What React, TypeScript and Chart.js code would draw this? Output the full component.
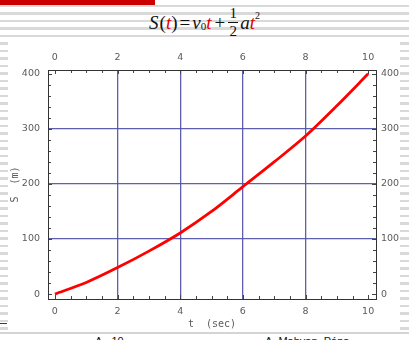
import React, { useEffect, useRef } from "react";
import { Chart, registerables } from "chart.js";

Chart.register(...registerables);

const times = [0, 1, 2, 3, 4, 5, 6, 7, 8, 9, 10];
const distance = [0, 21, 48, 78, 111, 150, 195, 240, 287, 342, 400];
const xTickValues = [0, 2, 4, 6, 8, 10];
const yTickValues = [0, 100, 200, 300, 400];
const xTitle = "t  (sec)";
const yTitle = "S  (m)";

const GRID = "rgba(78,78,168,0.9)";
const TICKCOL = "#5a5a5a";

const framePlugin = {
  id: "frame",
  beforeDatasetsDraw(chart: any) {
    const { ctx, chartArea } = chart;
    const xs = chart.scales.x;
    const ys = chart.scales.y;
    ctx.save();
    ctx.strokeStyle = "#444";
    ctx.lineWidth = 1;
    ctx.beginPath();
    for (let v = 0; v <= 10.001; v += 0.5) {
      const px = Math.round(xs.getPixelForValue(v)) + 0.5;
      const len = v % 2 === 0 ? 4 : 3;
      ctx.moveTo(px, chartArea.bottom);
      ctx.lineTo(px, chartArea.bottom - len);
      ctx.moveTo(px, chartArea.top);
      ctx.lineTo(px, chartArea.top + len);
    }
    for (let v = 0; v <= 400; v += 20) {
      const py = Math.round(ys.getPixelForValue(v)) + 0.5;
      const len = v % 100 === 0 ? 4 : 3;
      ctx.moveTo(chartArea.left, py);
      ctx.lineTo(chartArea.left + len, py);
      ctx.moveTo(chartArea.right, py);
      ctx.lineTo(chartArea.right - len, py);
    }
    ctx.stroke();
    ctx.strokeStyle = "#333";
    ctx.strokeRect(
      Math.round(chartArea.left) + 0.5,
      Math.round(chartArea.top) + 0.5,
      Math.round(chartArea.right - chartArea.left),
      Math.round(chartArea.bottom - chartArea.top)
    );
    ctx.restore();
  },
};

const tickFont = { family: "DejaVu Sans", size: 9.5 };

function ChartCanvas() {
  const ref = useRef<HTMLCanvasElement | null>(null);
  useEffect(() => {
    if (!ref.current) return;
    const gridColor = (ctx: any) => {
      const v = ctx.tick && ctx.tick.value;
      if (v === undefined) return "rgba(0,0,0,0)";
      const scaleId = ctx.scale.id;
      if (scaleId === "x") return v > 0 && v < 10 ? GRID : "rgba(0,0,0,0)";
      return v > 0 && v < 400 ? GRID : "rgba(0,0,0,0)";
    };
    const chart = new Chart(ref.current, {
      type: "scatter",
      data: {
        datasets: [
          {
            data: times.map((t, i) => ({ x: t, y: distance[i] })),
            showLine: true,
            borderColor: "#ff0000",
            borderWidth: 2.8,
            pointRadius: 0,
            tension: 0.3,
          },
        ],
      },
      plugins: [framePlugin],
      options: {
        animation: false,
        responsive: false,
        layout: { padding: 0 },
        plugins: { legend: { display: false }, tooltip: { enabled: false } },
        scales: {
          x: {
            type: "linear",
            position: "bottom",
            min: -0.22,
            max: 10.25,
            afterBuildTicks: (s: any) => {
              s.ticks = xTickValues.map((v) => ({ value: v }));
            },
            afterFit: (s: any) => {
              s.height = 31;
            },
            grid: { color: gridColor, lineWidth: 1.3, drawTicks: false },
            border: { display: false },
            ticks: { font: tickFont, color: TICKCOL, padding: 7, maxRotation: 0 },
            title: {
              display: true,
              text: xTitle,
              font: { family: "DejaVu Sans Mono", size: 10 },
              color: TICKCOL,
              padding: { top: 0, bottom: 0 },
            },
          },
          x2: {
            type: "linear",
            position: "top",
            min: -0.22,
            max: 10.25,
            afterBuildTicks: (s: any) => {
              s.ticks = xTickValues.map((v) => ({ value: v }));
            },
            afterFit: (s: any) => {
              s.height = 30;
            },
            grid: { display: false, drawTicks: false },
            border: { display: false },
            ticks: { font: tickFont, color: TICKCOL, padding: 7, maxRotation: 0 },
          },
          y: {
            type: "linear",
            position: "left",
            min: -9,
            max: 407,
            afterBuildTicks: (s: any) => {
              s.ticks = yTickValues.map((v) => ({ value: v }));
            },
            afterFit: (s: any) => {
              s.width = 48;
            },
            grid: { color: gridColor, lineWidth: 1.3, drawTicks: false },
            border: { display: false },
            ticks: { font: tickFont, color: TICKCOL, padding: 8 },
            title: {
              display: true,
              text: yTitle,
              font: { family: "DejaVu Sans Mono", size: 10 },
              color: TICKCOL,
              padding: { top: 9, bottom: 0 },
            },
          },
          y2: {
            type: "linear",
            position: "right",
            min: -9,
            max: 407,
            afterBuildTicks: (s: any) => {
              s.ticks = yTickValues.map((v) => ({ value: v }));
            },
            afterFit: (s: any) => {
              s.width = 33;
            },
            grid: { display: false, drawTicks: false },
            border: { display: false },
            ticks: { font: tickFont, color: TICKCOL, padding: 5 },
          },
        },
      },
    } as any);
    return () => chart.destroy();
  }, []);
  return (
    <canvas
      ref={ref}
      width={409}
      height={290}
      style={{ position: "absolute", left: 0, top: 40, width: 409, height: 290 }}
    />
  );
}

const stripes =
  "repeating-linear-gradient(to bottom, #ffffff 0px, #ffffff 5px, #d9d9d9 5px, #d9d9d9 7.5px)";

export default function App() {
  const serif = "'Liberation Serif', 'DejaVu Serif', serif";
  const it: React.CSSProperties = { fontStyle: "italic" };
  const red: React.CSSProperties = { fontStyle: "italic", color: "#e00000" };
  return (
    <div
      style={{
        position: "absolute",
        left: 0,
        top: 0,
        width: 409,
        height: 340,
        overflow: "hidden",
        background: stripes,
        fontFamily: serif,
      }}
    >
      <div style={{ position: "absolute", left: 0, top: 0, width: 155, height: 5, background: "#cc0000" }} />
      <div style={{ position: "absolute", left: 8, top: 40, width: 392, height: 292, background: "#fff" }} />
      <div style={{ position: "absolute", left: 0, top: 332, width: 409, height: 2, background: "#d4d4d4" }} />
      <div style={{ position: "absolute", left: 0, top: 334, width: 409, height: 6, background: "#fff" }} />
      <div style={{ position: "absolute", left: 0, top: 323, width: 7, height: 1, background: "#cc0000" }} />
      <div
        style={{
          position: "absolute",
          left: 0,
          top: 6,
          width: 409,
          display: "flex",
          justifyContent: "center",
          alignItems: "center",
          fontSize: 19,
          color: "#111",
          lineHeight: 1,
        }}
      >
        <span style={it}>S</span>
        <span style={{ marginLeft: 1 }}>(</span>
        <span style={red}>t</span>
        <span>)</span>
        <span style={{ margin: "0 2px" }}>=</span>
        <span style={it}>v</span>
        <span style={{ fontSize: 11, position: "relative", top: 4 }}>0</span>
        <span style={red}>t</span>
        <span style={{ margin: "0 3px" }}>+</span>
        <span style={{ display: "inline-flex", flexDirection: "column", alignItems: "center", fontSize: 15, lineHeight: 1 }}>
          <span>1</span>
          <span style={{ width: 10, height: 1, background: "#111", margin: "1px 0" }} />
          <span>2</span>
        </span>
        <span style={{ ...it, marginLeft: 2 }}>a</span>
        <span style={red}>t</span>
        <span style={{ fontSize: 10, position: "relative", top: -7 }}>2</span>
      </div>
      <ChartCanvas />
      <div style={{ position: "absolute", left: 95, top: 335, fontSize: 11, color: "#111", fontFamily: "'Liberation Sans', sans-serif", whiteSpace: "nowrap" }}>
        A - 10
      </div>
      <div style={{ position: "absolute", left: 265, top: 335, fontSize: 11, color: "#111", fontFamily: "'Liberation Sans', sans-serif", whiteSpace: "nowrap" }}>
        A. Mahvan, Pápa, ...
      </div>
    </div>
  );
}
